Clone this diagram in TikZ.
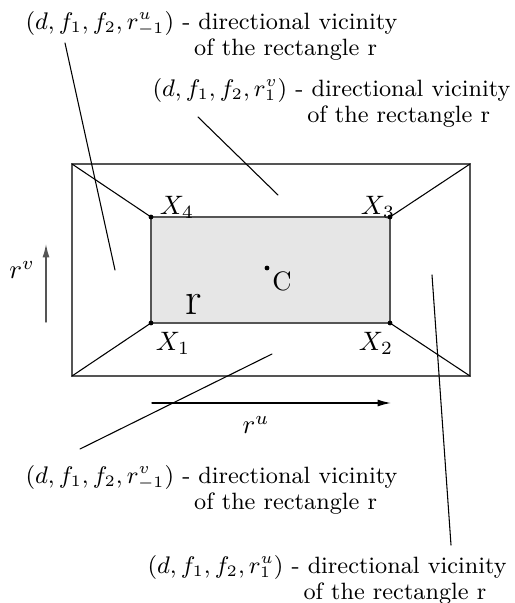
\documentclass[tikz,border=0pt]{standalone}
\usepackage{amsmath}
\usepackage{tikz}
\usetikzlibrary{arrows.meta,positioning}
\definecolor{shade}{HTML}{E6E6E6}
\definecolor{rim}{HTML}{555555}
\newcommand{\vic}[1]{$(d,f_1,f_2,#1)$ - directional vicinity\\[0.6pt]
  \hphantom{$(d,f_1,f_2,#1)$ -}\hspace*{-1.6pt} of the rectangle r}

\begin{document}
\begin{tikzpicture}[x=0.375pt,y=-0.375pt,
          >={Latex[length=5pt,width=2.6pt]},line cap=round,
          frame/.style={rim,line width=0.5pt},
          spoke/.style={black,line width=0.4pt},
          arr/.style={->,line width=0.5pt},
          vicinity/.style={align=left,inner sep=0pt,anchor=north west,
                           font=\fontsize{8.85}{9.2}\selectfont},
          corner/.style={inner sep=0pt,font=\normalsize}]
        \useasboundingbox (0,0) rectangle (515,603);
        % outer and inner rectangles
        \coordinate (A1) at (72,376);
        \coordinate (A2) at (470,376);
        \coordinate (A3) at (470,164);
        \coordinate (A4) at (72,164);
        \coordinate (X1) at (151,323);
        \coordinate (X2) at (390,323);
        \coordinate (X3) at (390,217);
        \coordinate (X4) at (151,217);
        \filldraw[frame,fill=shade] (X1) rectangle (X3);
        \draw[frame] (A1) rectangle (A3);
        \foreach \i in {1,...,4}{
          \draw[spoke] (A\i) -- (X\i);
          \fill (X\i) circle (2.4);
        }
        \node[corner] (x1) at (173,343) {$X_1$};
        \node[corner] (x2) at (376,343) {$X_2$};
        \node[corner] (x3) at (378,207) {$X_3$};
        \node[corner] (x4) at (177,207) {$X_4$};
        \coordinate (C) at (267,268);
        \fill (C) circle (2.4);
        \node[corner] (cl) at (282,281) {C};
        \node[corner,font=\LARGE] (rl) at (194,304) {r};
        % direction arrows
        \coordinate (vs) at (46,322);
        \coordinate (ve) at (46,244);
        \draw[arr,rim] (vs) -- (ve);
        \node[corner] (rv) at (22,270) {$r^v$};
        \coordinate (us) at (152,403);
        \coordinate (ue) at (391,403);
        \draw[arr] (us) -- (ue);
        \node[corner] (ru) at (256,425) {$r^u$};
        % vicinity labels
        \node[vicinity] (vl) at (25,11) {\vic{r^u_{-1}}};
        \node[vicinity] (vt) at (152,78) {\vic{r^v_1}};
        \node[vicinity] (vb) at (25,465) {\vic{r^v_{-1}}};
        \node[vicinity] (vr) at (147,555) {\vic{r^u_1}};
        \coordinate (pl0) at (65,43);
        \coordinate (pl1) at (115,270);
        \coordinate (pt0) at (198,117);
        \coordinate (pt1) at (278,195);
        \coordinate (pb0) at (80,449);
        \coordinate (pb1) at (272,354);
        \coordinate (pr0) at (451,545);
        \coordinate (pr1) at (432,275);
        \draw[spoke] (pl0) -- (pl1);
        \draw[spoke] (pt0) -- (pt1);
        \draw[spoke] (pb0) -- (pb1);
        \draw[spoke] (pr0) -- (pr1);
      \end{tikzpicture}
\end{document}
